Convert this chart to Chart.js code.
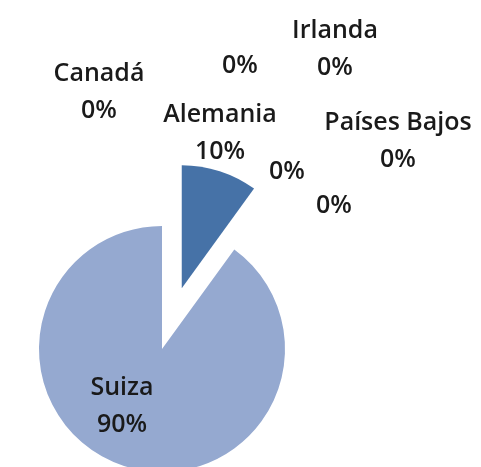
<!DOCTYPE html>
<html>
<head>
<meta charset="utf-8">
<script src="https://cdn.jsdelivr.net/npm/chart.js@4.4.0/dist/chart.umd.min.js"></script>
<style>
html, body { margin:0; padding:0; background:#fff; overflow:hidden; }
#wrap { position:relative; width:481px; height:500px; }
</style>
</head>
<body>
<div id="wrap"><canvas id="pie"></canvas></div>
<script>
// datos del grafico
var paises = ['Alemania', 'Canadá', '', 'Irlanda', '', 'Países Bajos', '', 'Suiza'];
var valores = [10, 0, 0, 0, 0, 0, 0, 90];
var colores = ['#4672A7', '#4672A7', '#4672A7', '#4672A7', '#4672A7', '#4672A7', '#4672A7', '#95A9D0'];

// separacion de cada porcion (px)
var explode = [64, 0, 0, 0, 0, 0, 0, 0];

// donde va cada etiqueta respecto al centro de la torta (x, linea base 1ra linea)
var posEtiquetas = [
	[58, -227], [-63, -268], [78, -276], [173, -311],
	[125, -170], [236, -219], [172, -136], [-40, 46]
];

var explodePlugin = {
	id: 'explode',
	afterDatasetUpdate: function(chart, args){
		var arcs = args.meta.data;
		for(var i=0;i<arcs.length;i++){
			var d = explode[i] || 0;
			if(!d) continue;
			var a = arcs[i];
			var mid = (a.startAngle + a.endAngle) / 2;
			a.x += Math.cos(mid) * d;
			a.y += Math.sin(mid) * d;
		}
	}
};

var etiquetasPlugin = {
	id: 'etiquetas',
	afterDatasetsDraw: function(chart){
		var ctx = chart.ctx;
		var meta = chart.getDatasetMeta(0);
		var ca = chart.chartArea;
		var cx = (ca.left + ca.right) / 2;
		var cy = (ca.top + ca.bottom) / 2;
		var total = 0;
		for(var i=0;i<valores.length;i++){ total += valores[i]; }
		ctx.save();
		ctx.font = '600 25px "Open Sans"';
		ctx.fillStyle = '#1A1A1A';
		ctx.textAlign = 'center';
		ctx.textBaseline = 'alphabetic';
		for(var i=0;i<meta.data.length;i++){
			var pct = Math.round(valores[i] * 100 / total) + '%';
			var x = cx + posEtiquetas[i][0];
			var y = cy + posEtiquetas[i][1];
			if(paises[i] != ''){
				ctx.fillText(paises[i], x, y);
				ctx.fillText(pct, x, y + 37);
			} else {
				ctx.fillText(pct, x, y);
			}
		}
		ctx.restore();
	}
};

var ctx = document.getElementById('pie').getContext('2d');
var myChart = new Chart(ctx, {
	type: 'pie',
	data: {
		labels: paises,
		datasets: [{
			data: valores,
			backgroundColor: colores,
			borderWidth: 0
		}]
	},
	options: {
		responsive: true,
		maintainAspectRatio: false,
		animation: false,
		events: [],
		layout: { padding: { left: 39, right: 196, top: 226, bottom: 28 } },
		plugins: {
			legend: { display: false },
			tooltip: { enabled: false }
		}
	},
	plugins: [explodePlugin, etiquetasPlugin]
});
</script>
</body>
</html>
